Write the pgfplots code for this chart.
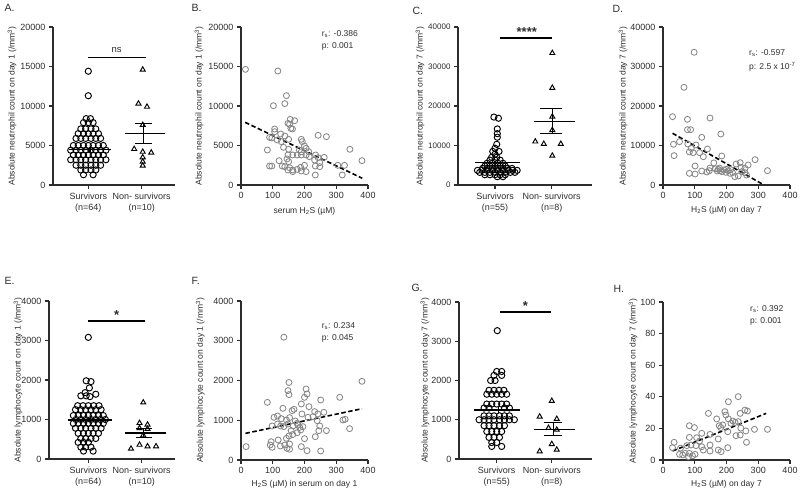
\documentclass[border=0pt]{standalone}
\usepackage{pgfplots}
\pgfplotsset{compat=1.18}
\usepackage{fontspec}
\setmainfont{Liberation Sans}
\definecolor{ptgray}{RGB}{135,135,135}
\definecolor{axc}{RGB}{45,45,45}
\pgfplotsset{
  gp/.style={scale only axis, anchor=south west, clip=false,
    axis lines=left, axis line style={-, line width=1.1pt, axc},
    tick style={line width=1.1pt, axc}, tick align=outside, major tick length=4pt,
    tick label style={font=\fontsize{9}{11.5}\selectfont, text=axc},
    scaled y ticks=false, scaled x ticks=false,
    /pgf/number format/fixed, /pgf/number format/1000 sep={}, /pgf/number format/assume math mode=true,
    every axis y label/.style={rotate=90, anchor=center, font=\fontsize{8.5}{10}\selectfont, text=axc},
    every axis x label/.style={anchor=center, font=\fontsize{8.5}{10}\selectfont, text=axc}},
  cat/.style={gp, xtick={1,2}, xticklabel style={align=center}},
  sct/.style={gp, xmin=0, xmax=400, xtick={0,100,200,300,400}},
  catS/.style={black, only marks, mark=o, mark size=3.1pt, mark options={line width=0.95pt}},
  catN/.style={black, only marks, mark=triangle, mark size=2.9pt, mark options={line width=0.95pt}},
  scp/.style={ptgray, only marks, mark=o, mark size=3pt, mark options={line width=0.85pt}},
  meanl/.style={black, line width=1.2pt},
  sig/.style={black, line width=1.5pt},
  reg/.style={black, line width=1.6pt, dash pattern=on 4.5pt off 2.5pt},
}
\newcommand{\pl}[1]{{\fontsize{10.5}{12}\selectfont #1}}
\begin{document}
\begin{tikzpicture}
% ---------------- A
\begin{axis}[cat, at={(53pt,306pt)}, width=122pt, height=158pt,
  xmin=0.338, xmax=2.625, ymin=0, ymax=20000, ytick={0,5000,10000,15000,20000},
  xticklabels={{Survivors\\(n=64)},{Non- survivors\\(n=10)}},
  ylabel={Absolute neutrophil count on day 1 (/mm\textsuperscript{3})},
  ylabel style={at={(axis description cs:-0.336,0.5)}}]
\addplot[catS] coordinates {
(1.0,14400)(1.0,11300)
(0.96,8400)(1.04,8400)
(0.91,7900)(1.0,7900)(1.09,7900)
(0.86,7100)(0.95,7100)(1.05,7100)(1.14,7100)
(0.81,6500)(0.91,6500)(1.0,6500)(1.09,6500)(1.19,6500)
(0.77,5900)(0.86,5900)(0.95,5900)(1.05,5900)(1.14,5900)(1.23,5900)
(0.72,5000)(0.81,5000)(0.91,5000)(1.0,5000)(1.09,5000)(1.19,5000)(1.28,5000)
(0.67,4400)(0.77,4400)(0.86,4400)(0.95,4400)(1.05,4400)(1.14,4400)(1.23,4400)(1.33,4400)
(0.72,3800)(0.81,3800)(0.91,3800)(1.0,3800)(1.09,3800)(1.19,3800)(1.28,3800)
(0.67,3200)(0.77,3200)(0.86,3200)(0.95,3200)(1.05,3200)(1.14,3200)(1.23,3200)(1.33,3200)
(0.77,2500)(0.86,2500)(0.95,2500)(1.05,2500)(1.14,2500)(1.23,2500)
(0.86,1900)(0.95,1900)(1.05,1900)(1.14,1900)
(0.91,1300)(1.09,1300)};
\addplot[catN] coordinates {(2.02,14600)(1.94,10300)(2.1,9900)(2.02,7600)(1.86,4550)(2.02,4200)(2.18,4100)(2.02,3500)(2.02,2950)(2.02,2450)};
\addplot[meanl] coordinates {(0.64,4500)(1.42,4500)};
\addplot[meanl] coordinates {(1.03,4200)(1.03,4800)};
\addplot[meanl] coordinates {(1.69,6550)(2.44,6550)};
\addplot[meanl] coordinates {(2.03,5300)(2.03,7800)};
\addplot[meanl] coordinates {(1.87,7800)(2.19,7800)};
\addplot[meanl] coordinates {(1.87,5300)(2.19,5300)};
\addplot[sig] coordinates {(1.0,16150)(2.09,16150)};
\node[font=\fontsize{9.5}{11}\selectfont, text=axc] at (axis cs:1.53,17100) {ns};
\end{axis}
% ---------------- B
\begin{axis}[sct, at={(241pt,306pt)}, width=127pt, height=158pt,
  ymin=0, ymax=20000, ytick={0,5000,10000,15000,20000},
  ylabel={Absolute neutrophil count on day 1 (/mm\textsuperscript{3})},
  ylabel style={at={(axis description cs:-0.33,0.5)}},
  xlabel={serum H\textsubscript{2}S (µM)},
  xlabel style={at={(axis description cs:0.5,-0.165)}}]
\addplot[scp] coordinates {
(14,14640)(116,14430)(143,11310)(138,10300)(102,10040)(155,8310)(169,8140)(148,7800)(153,7680)(162,7090)(157,7170)(106,7090)(106,6750)(125,6460)(138,6200)(243,6290)(269,6120)(90,6030)(97,5950)(114,5700)(150,5780)(190,5780)(193,5490)(127,5490)(134,4770)(200,4940)(205,4640)(83,4430)(150,4520)(184,4430)(190,4200)(148,3800)(163,3800)(177,3800)(190,3800)(205,3800)(215,3590)(235,3800)(243,3460)(262,3500)(213,4220)(343,4520)(150,2950)(120,3080)(145,3300)(232,3160)(248,2830)(90,2400)(97,2400)(130,2400)(138,2320)(153,2190)(163,1900)(177,1980)(188,2240)(200,2490)(234,2400)(248,2320)(305,2490)(326,2490)(381,3080)(319,1270)(234,1270)(205,1690)(190,1770)(163,1690)(148,1900)};
\addplot[reg] coordinates {(13,7930)(382,850)};
\end{axis}
% ---------------- C
\begin{axis}[cat, at={(458pt,306pt)}, width=134pt, height=158pt,
  xmin=0.347, xmax=2.71, ymin=0, ymax=40000, ytick={0,10000,20000,30000,40000},
  yticklabel style={font=\fontsize{8}{10}\selectfont},
  xticklabels={{Survivors\\(n=55)},{Non- survivors\\(n=8)}},
  ylabel={Absolute neutrophil count on day 7 (/mm\textsuperscript{3})},
  ylabel style={at={(axis description cs:-0.283,0.5)}}]
\addplot[catS] coordinates {
(0.98,17200)(1.06,16900)
(1.04,14200)(1.04,13000)(1.04,12100)(1.03,10300)(1.0,9300)
(0.96,8500)(1.07,8500)(1.0,7800)
(0.94,7000)(1.03,7000)
(0.91,6300)(1.0,6300)(1.09,6300)
(0.86,5500)(0.95,5500)(1.05,5500)(1.14,5500)
(0.82,4800)(0.91,4800)(1.0,4800)(1.09,4800)(1.18,4800)
(0.78,4200)(0.86,4200)(0.95,4200)(1.05,4200)(1.14,4200)(1.22,4200)(1.30,4200)
(0.69,3700)(0.77,3700)(0.86,3700)(0.95,3700)(1.05,3700)(1.14,3700)(1.23,3700)(1.31,3700)(1.39,3700)
(0.73,3200)(0.82,3200)(0.91,3200)(1.0,3200)(1.09,3200)(1.18,3200)(1.27,3200)(1.35,3200)
(0.82,2600)(0.91,2600)(1.0,2600)(1.09,2600)(1.18,2600)
(1.04,2100)(1.14,2100)};
\addplot[catN] coordinates {(2.01,33400)(2.01,24600)(2.01,17300)(2.01,13900)(1.71,11000)(1.86,10400)(2.16,10400)(2.01,7400)};
\addplot[meanl] coordinates {(0.65,5600)(1.44,5600)};
\addplot[meanl] coordinates {(1.68,16100)(2.41,16100)};
\addplot[meanl] coordinates {(2.01,13000)(2.01,19300)};
\addplot[meanl] coordinates {(1.79,19300)(2.18,19300)};
\addplot[meanl] coordinates {(1.79,13000)(2.18,13000)};
\addplot[sig] coordinates {(1.09,37200)(2.0,37200)};
\node[font=\fontsize{13}{14}\selectfont\bfseries, text=axc, anchor=south] at (axis cs:1.56,36600) {****};
\end{axis}
% ---------------- D
\begin{axis}[sct, at={(663pt,306pt)}, width=127pt, height=158pt,
  ymin=0, ymax=40000, ytick={0,10000,20000,30000,40000},
  ylabel={Absolute neutrophil count on day 7 (/mm\textsuperscript{3})},
  ylabel style={at={(axis description cs:-0.315,0.5)}},
  xlabel={H\textsubscript{2}S (µM) on day 7},
  xlabel style={at={(axis description cs:0.5,-0.158)}}]
\addplot[scp] coordinates {
(98,33600)(66,24730)(30,17300)(77,16630)(148,16960)(77,14010)(87,14010)(182,12910)(122,12070)(33,10300)(52,10970)(78,10380)(104,10130)(89,9280)(140,9110)(83,8360)(95,8190)(115,8190)(127,7170)(35,7430)(185,7340)(290,6410)(268,5060)(243,5650)(230,5310)(101,4810)(148,4300)(122,3540)(83,2950)(101,2780)(138,3290)(146,3630)(174,3970)(171,3540)(180,3630)(185,3380)(192,3800)(198,3210)(206,3630)(211,2950)(219,3120)(226,2110)(237,2280)(248,3380)(258,3120)(263,2530)(329,3630)(246,4470)(258,4220)(165,4100)(160,5600)(200,4000)(213,3900)(178,4300)};
\addplot[reg] coordinates {(30,13100)(318,0)};
\end{axis}
% ---------------- E
\begin{axis}[cat, at={(49pt,32pt)}, width=126pt, height=158pt,
  xmin=0.263, xmax=2.625, ymin=0, ymax=4000, ytick={0,1000,2000,3000,4000},
  xticklabels={{Survivors\\(n=64)},{Non- survivors\\(n=10)}},
  ylabel={Absolute lymphocyte count on day 1 (/mm\textsuperscript{3})},
  ylabel style={at={(axis description cs:-0.246,0.5)}}]
\addplot[catS] coordinates {
(1.0,3080)
(0.96,1980)(1.05,1960)(1.02,1800)
(0.94,1680)(1.14,1640)
(0.86,1600)(0.96,1600)(1.03,1580)
(0.80,1350)(0.90,1350)(1.0,1350)(1.10,1350)(1.20,1350)
(0.76,1250)(0.86,1250)(0.95,1250)(1.05,1250)(1.14,1250)(1.24,1250)
(0.72,1100)(0.81,1100)(0.91,1100)(1.0,1100)(1.09,1100)(1.19,1100)(1.28,1100)
(0.77,1000)(0.86,1000)(0.95,1000)(1.05,1000)(1.14,1000)(1.23,1000)(1.32,1000)
(0.72,900)(0.81,900)(0.91,900)(1.0,900)(1.09,900)(1.19,900)(1.28,900)
(0.76,780)(0.86,780)(0.95,780)(1.05,780)(1.14,780)(1.24,780)
(0.81,650)(0.91,650)(1.0,650)(1.09,650)(1.19,650)
(0.86,520)(0.95,520)(1.05,520)(1.14,520)
(0.81,420)(0.91,420)(1.0,420)
(0.86,300)(0.95,300)(1.05,300)
(0.91,200)(1.09,200)};
\addplot[catN] coordinates {(2.03,1430)(1.96,910)(2.11,870)(1.96,780)(2.11,760)(2.03,600)(1.80,260)(1.96,360)(2.11,320)(2.27,320)};
\addplot[meanl] coordinates {(0.625,990)(1.44,990)};
\addplot[meanl] coordinates {(1.03,930)(1.03,1050)};
\addplot[meanl] coordinates {(1.69,660)(2.45,660)};
\addplot[meanl] coordinates {(2.03,540)(2.03,780)};
\addplot[meanl] coordinates {(1.9,780)(2.2,780)};
\addplot[meanl] coordinates {(1.9,540)(2.2,540)};
\addplot[sig] coordinates {(1.0,3490)(2.07,3490)};
\node[font=\fontsize{13}{14}\selectfont\bfseries, text=axc, anchor=south] at (axis cs:1.53,3430) {*};
\end{axis}
% ---------------- F
\begin{axis}[sct, at={(241pt,31pt)}, width=127pt, height=159pt,
  ymin=0, ymax=4000, ytick={0,1000,2000,3000,4000},
  ylabel={Absolute lymphocyte count on day 1 (/mm\textsuperscript{3})},
  ylabel style={at={(axis description cs:-0.32,0.5)}},
  xlabel={H\textsubscript{2}S (µM) in serum on day 1},
  xlabel style={at={(axis description cs:0.5,-0.152)}}]
\addplot[scp] coordinates {
(135,3090)(381,1980)(151,1950)(148,1745)(151,1645)(205,1787)(208,1661)(200,1577)(311,1577)(83,1450)(190,1410)(251,1510)(214,1342)(161,1242)(132,1300)(167,1275)(232,1217)(261,1200)(242,1158)(104,1074)(115,1107)(127,1040)(192,1158)(211,1074)(227,1090)(143,1007)(153,1066)(171,982)(98,856)(115,906)(125,856)(135,839)(148,906)(164,856)(177,923)(185,822)(195,839)(188,755)(177,688)(158,738)(248,856)(240,990)(245,738)(269,738)(321,1007)(328,1024)(342,789)(234,587)(200,537)(151,604)(143,545)(117,503)(95,461)(92,378)(98,319)(124,352)(138,378)(145,294)(153,403)(190,336)(16,336)(208,235)(251,227)(153,270)(180,880)(163,640)};
\addplot[reg] coordinates {(14,670)(381,1290)};
\end{axis}
% ---------------- G
\begin{axis}[cat, at={(459pt,32pt)}, width=133pt, height=157pt,
  xmin=0.315, xmax=2.73, ymin=0, ymax=4000, ytick={0,1000,2000,3000,4000},
  xticklabels={{Survivors\\(n=55)},{Non- survivors\\(n=8)}},
  ylabel={Absolute lymphocyte count on day 7 (/mm\textsuperscript{3})},
  ylabel style={at={(axis description cs:-0.256,0.5)}}]
\addplot[catS] coordinates {
(1.01,3270)
(1.0,2230)(1.09,2230)
(0.95,2130)(1.09,2130)
(0.89,2000)(0.97,2000)
(0.86,1750)(0.95,1750)(1.04,1750)(1.13,1750)
(0.82,1650)(0.91,1650)(1.0,1650)(1.09,1650)(1.18,1650)
(0.82,1400)(0.91,1400)(1.0,1400)(1.09,1400)(1.18,1400)
(0.77,1300)(0.86,1300)(1.14,1300)(1.23,1300)
(0.77,1100)(0.86,1100)(0.95,1100)(1.05,1100)(1.14,1100)(1.23,1100)
(0.68,1000)(0.77,1000)(0.86,1000)(0.95,1000)(1.05,1000)(1.14,1000)(1.23,1000)(1.32,1000)
(0.77,850)(0.86,850)(0.95,850)(1.05,850)(1.14,850)
(0.82,700)(0.91,700)(1.0,700)(1.09,700)
(0.86,550)(0.95,550)(1.05,550)
(0.91,420)(1.0,420)
(0.91,320)(1.09,320)};
\addplot[catN] coordinates {(2.0,1480)(1.78,1080)(2.09,1020)(1.94,790)(2.09,745)(2.0,380)(1.78,195)(2.09,237)};
\addplot[meanl] coordinates {(0.59,1250)(1.42,1250)};
\addplot[meanl] coordinates {(1.03,1170)(1.03,1330)};
\addplot[meanl] coordinates {(1.67,750)(2.42,750)};
\addplot[meanl] coordinates {(2.03,590)(2.03,920)};
\addplot[meanl] coordinates {(1.85,920)(2.18,920)};
\addplot[meanl] coordinates {(1.85,590)(2.18,590)};
\addplot[sig] coordinates {(1.06,3745)(1.98,3745)};
\node[font=\fontsize{13}{14}\selectfont\bfseries, text=axc, anchor=south] at (axis cs:1.52,3690) {*};
\end{axis}
% ---------------- H
\begin{axis}[sct, at={(663pt,31pt)}, width=127pt, height=158pt,
  ymin=0, ymax=100, ytick={0,20,40,60,80,100},
  ylabel={Absolute lymphocyte count on day 7 (/mm\textsuperscript{3})},
  ylabel style={at={(axis description cs:-0.236,0.5)}},
  xlabel={H\textsubscript{2}S (µM) on day 7},
  xlabel style={at={(axis description cs:0.5,-0.152)}}]
\addplot[scp] coordinates {
(237,40.1)(206,36.9)(143,29.5)(258,31.6)(266,31.0)(243,29.5)(195,30.6)(198,28.5)(169,26.0)(206,26.0)(220,24.7)(227,23.8)(237,24.3)(214,23.2)(188,22.2)(177,21.7)(83,21.7)(99,20.5)(182,20.5)(245,20.2)(288,19.4)(329,19.4)(122,16.9)(148,16.2)(83,14.3)(106,14.1)(174,13.3)(230,15.4)(243,15.8)(261,18.4)(263,11.2)(204,17.9)(35,11.2)(88,9.5)(104,9.1)(122,8.4)(75,9.1)(30,7.8)(127,6.3)(148,5.7)(174,6.3)(183,5.3)(204,7.8)(52,3.6)(70,4.2)(83,4.2)(93,2.7)(101,3.6)(80,2.1)(62,3.2)(148,9.5)(55,7.5)(115,12)};
\addplot[reg] coordinates {(30,5.7)(325,29.5)};
\end{axis}
% ---------------- panel letters and statistics
\node[anchor=west, text=axc] at (1pt,483pt) {\pl{A.}};
\node[anchor=west, text=axc] at (188pt,483pt) {\pl{B.}};
\node[anchor=west, text=axc] at (409pt,480.5pt) {\pl{C.}};
\node[anchor=west, text=axc] at (609pt,482pt) {\pl{D.}};
\node[anchor=west, text=axc] at (1pt,210pt) {\pl{E.}};
\node[anchor=west, text=axc] at (188pt,210pt) {\pl{F.}};
\node[anchor=west, text=axc] at (408pt,203pt) {\pl{G.}};
\node[anchor=west, text=axc] at (610pt,202.5pt) {\pl{H.}};
\begin{scope}[every node/.style={anchor=west, inner sep=0pt, text=axc, font=\fontsize{8.5}{10}\selectfont}]
\node at (321.7pt,456.7pt) {r\textsubscript{s}: -0.386};
\node at (321.7pt,444.3pt) {p: 0.001};
\node at (749pt,437.7pt) {r\textsubscript{s}: -0.597};
\node at (749pt,424.3pt) {p: 2.5 x 10\textsuperscript{-7}};
\node at (321.7pt,165.3pt) {r\textsubscript{s}: 0.234};
\node at (321.7pt,152.7pt) {p: 0.045};
\node at (750pt,182pt) {r\textsubscript{s}: 0.392};
\node at (750pt,170pt) {p: 0.001};
\end{scope}
\pgfresetboundingbox
\useasboundingbox (0pt,0pt) rectangle (800pt,491pt);
\end{tikzpicture}
\end{document}
